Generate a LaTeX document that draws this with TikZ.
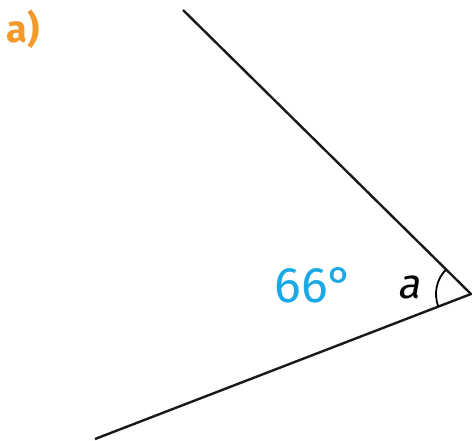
\documentclass[tikz,border=0pt]{standalone}
\usepackage{fontspec}
\setmainfont{Fira Sans}
\newfontfamily\slantfont[FakeSlant=0.18]{Fira Sans}
\begin{document}
\begin{tikzpicture}[x=1pt,y=-1pt,
  ray/.style={line width=2.4pt,draw=black!90},
  lbl/.style={inner sep=0pt,anchor=base}]
\useasboundingbox (0,0) rectangle (472,440);
\definecolor{orangeL}{HTML}{F39A2B}
\definecolor{cyanL}{HTML}{1BA9E6}
\coordinate (v) at (471,294);
\coordinate (p) at (183,10);
\coordinate (q) at (95,439);
\draw[ray] (p) -- (v) -- (q);
\draw[line width=1.8pt] ([shift={(159:35)}]v) arc[start angle=159,end angle=224.6,radius=35];
\node[lbl,text=orangeL,font=\fontsize{38}{42}\selectfont\bfseries] (t) at (23,42) {a)};
\node[lbl,text=cyanL,font=\fontsize{50}{54}\selectfont] (ang) at (314,302) {66°};
\node[lbl,font=\fontsize{42}{46}\selectfont\slantfont] (a) at (409,298) {a};
\end{tikzpicture}
\end{document}
